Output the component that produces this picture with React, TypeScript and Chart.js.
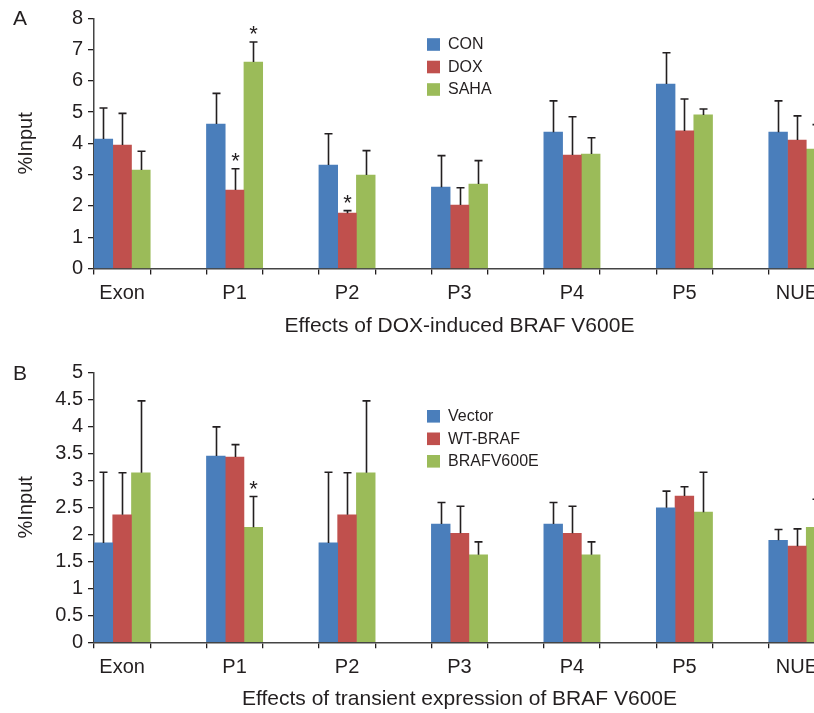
import React, { useEffect, useRef } from "react";
import { Chart, registerables } from "chart.js";

Chart.register(...registerables);

// ---------- DATA ----------
const groups = ["Exon", "P1", "P2", "P3", "P4", "P5", "NUE"];

// Panel A: Effects of DOX-induced BRAF V600E
const aSeries = ["CON", "DOX", "SAHA"];
const aCon = [4.14, 4.62, 3.31, 2.6, 4.36, 5.9, 4.36];
const aConErr = [0.99, 0.98, 1.0, 1.01, 1.0, 1.0, 1.0];
const aDox = [3.95, 2.51, 1.77, 2.03, 3.63, 4.4, 4.11];
const aDoxErr = [1.01, 0.68, 0.08, 0.55, 1.22, 1.02, 0.77];
const aSaha = [3.15, 6.6, 2.99, 2.7, 3.66, 4.91, 3.82];
const aSahaErr = [0.6, 0.64, 0.78, 0.75, 0.52, 0.19, 0.78];
const aConSig = [false, false, false, false, false, false, false];
const aDoxSig = [false, true, true, false, false, false, false];
const aSahaSig = [false, true, false, false, false, false, false];
const aTicks = [0, 1, 2, 3, 4, 5, 6, 7, 8];

// Panel B: Effects of transient expression of BRAF V600E
const bSeries = ["Vector", "WT-BRAF", "BRAFV600E"];
const bVector = [1.84, 3.45, 1.84, 2.19, 2.19, 2.49, 1.89];
const bVectorErr = [1.31, 0.54, 1.31, 0.4, 0.4, 0.31, 0.2];
const bWt = [2.36, 3.43, 2.36, 2.02, 2.02, 2.71, 1.78];
const bWtErr = [0.78, 0.23, 0.78, 0.5, 0.5, 0.17, 0.32];
const bV600e = [3.14, 2.13, 3.14, 1.62, 1.62, 2.41, 2.13];
const bV600eErr = [1.33, 0.57, 1.33, 0.24, 0.24, 0.74, 0.52];
const bVectorSig = [false, false, false, false, false, false, false];
const bWtSig = [false, false, false, false, false, false, false];
const bV600eSig = [false, true, false, false, false, false, false];
const bTicks = [0, 0.5, 1, 1.5, 2, 2.5, 3, 3.5, 4, 4.5, 5];

// ---------- STYLE ----------
const COLORS = ["#4a7ebb", "#c0504d", "#9bbb59"];
const INK = "#231f20";
const FONT = "'Liberation Sans', Arial, Helvetica, sans-serif";

// groups separated by an empty slot (the original has ticks at every slot boundary)
function slots<T>(arr: T[], blank: T): T[] {
  const out: T[] = [];
  arr.forEach((v, i) => {
    out.push(v);
    if (i < arr.length - 1) out.push(blank);
  });
  return out;
}

const annotatePlugin = {
  id: "annotate",
  afterDatasetsDraw(chart: any, _args: any, opts: any) {
    const ctx: CanvasRenderingContext2D = chart.ctx;
    const yScale = chart.scales.y;
    ctx.save();
    // error bars + significance stars
    chart.data.datasets.forEach((ds: any, di: number) => {
      const meta = chart.getDatasetMeta(di);
      meta.data.forEach((bar: any, i: number) => {
        const v = ds.data[i];
        if (v == null) return;
        const e = ds.errors[i] || 0;
        const x = Math.round(bar.x) + 0.5;
        const yBar = bar.y;
        const yTop = yScale.getPixelForValue(v + e);
        ctx.strokeStyle = INK;
        ctx.lineWidth = 1.6;
        ctx.beginPath();
        ctx.moveTo(x, yBar);
        ctx.lineTo(x, yTop);
        ctx.moveTo(x - 4, yTop);
        ctx.lineTo(x + 4, yTop);
        ctx.stroke();
        if (ds.sig[i]) {
          ctx.fillStyle = INK;
          ctx.font = `22px ${FONT}`;
          ctx.textAlign = "center";
          ctx.textBaseline = "alphabetic";
          ctx.fillText("*", x, yTop - 1);
        }
      });
    });
    // legend
    ctx.font = `16px ${FONT}`;
    ctx.textAlign = "left";
    ctx.textBaseline = "middle";
    chart.data.datasets.forEach((ds: any, di: number) => {
      const cy = opts.legendY + di * opts.legendGap;
      ctx.fillStyle = ds.backgroundColor;
      ctx.fillRect(opts.legendX, cy - 6.3, 13, 12.6);
      ctx.fillStyle = INK;
      ctx.fillText(ds.label, opts.legendX + 21, cy + 0.5);
    });
    // panel letter
    ctx.font = `21px ${FONT}`;
    ctx.textBaseline = "middle";
    ctx.fillText(opts.letter, 13, opts.letterY);
    ctx.restore();
  },
};

type PanelProps = {
  top: number;
  height: number;
  chartTop: number;
  titleBottomPad: number;
  xAxisHeight: number;
  letter: string;
  letterY: number;
  legendY: number;
  names: string[];
  values: number[][];
  errors: number[][];
  sig: boolean[][];
  ticks: number[];
  xTitle: string;
};

function Panel(p: PanelProps) {
  const ref = useRef<HTMLCanvasElement | null>(null);
  useEffect(() => {
    if (!ref.current) return;
    const chart = new Chart(ref.current, {
      type: "bar",
      data: {
        labels: slots(groups, ""),
        datasets: p.names.map((name, k) => ({
          label: name,
          data: slots<number | null>(p.values[k], null),
          errors: slots<number | null>(p.errors[k], null),
          sig: slots<boolean>(p.sig[k], false),
          backgroundColor: COLORS[k],
          borderWidth: 0,
          barPercentage: 1,
          categoryPercentage: 1,
        })) as any,
      },
      options: {
        responsive: false,
        animation: false,
        devicePixelRatio: 1,
        layout: { padding: { left: 0, right: 5, top: p.chartTop, bottom: 0 } },
        plugins: {
          legend: { display: false },
          tooltip: { enabled: false },
          annotate: {
            letter: p.letter,
            letterY: p.letterY,
            legendX: 427,
            legendY: p.legendY,
            legendGap: 22.5,
          },
        } as any,
        scales: {
          x: {
            type: "category",
            offset: true,
            grid: {
              offset: true,
              drawOnChartArea: false,
              drawTicks: true,
              tickLength: 6,
              color: INK,
              lineWidth: 1.3,
            },
            border: { display: true, color: "#444", width: 1.5 },
            ticks: {
              autoSkip: false,
              maxRotation: 0,
              color: INK,
              padding: 7,
              font: { family: FONT, size: 20 },
            },
            title: {
              display: true,
              text: p.xTitle,
              color: INK,
              font: { family: FONT, size: 21 },
              padding: { top: 0, bottom: p.titleBottomPad },
            },
            afterFit: (s: any) => {
              s.height = p.xAxisHeight;
            },
          },
          y: {
            min: p.ticks[0],
            max: p.ticks[p.ticks.length - 1],
            afterBuildTicks: (s: any) => {
              s.ticks = p.ticks.map((v) => ({ value: v }));
            },
            grid: {
              drawOnChartArea: false,
              drawTicks: true,
              tickLength: 6,
              color: INK,
              lineWidth: 1.3,
            },
            border: { display: true, color: "#444", width: 1.5 },
            ticks: {
              color: INK,
              padding: 5,
              font: { family: FONT, size: 20 },
              callback: (v: any) => String(Number(v)),
            },
            title: {
              display: true,
              text: "%Input",
              color: INK,
              font: { family: FONT, size: 20 },
              padding: { top: 14, bottom: 0 },
            },
            afterFit: (s: any) => {
              s.width = 94;
            },
          },
        },
      } as any,
      plugins: [annotatePlugin],
    });
    return () => chart.destroy();
  }, []);
  return (
    <canvas
      ref={ref}
      width={830}
      height={p.height}
      style={{ position: "absolute", left: 0, top: p.top, width: 830, height: p.height }}
    />
  );
}

export default function App() {
  return (
    <div
      style={{
        position: "fixed",
        left: 0,
        top: 0,
        width: 814,
        height: 713,
        overflow: "hidden",
        background: "#fff",
      }}
    >
      <Panel
        top={0}
        height={350}
        chartTop={18.3}
        xAxisHeight={81.5}
        titleBottomPad={11}
        letter="A"
        letterY={19}
        legendY={44.5}
        names={aSeries}
        values={[aCon, aDox, aSaha]}
        errors={[aConErr, aDoxErr, aSahaErr]}
        sig={[aConSig, aDoxSig, aSahaSig]}
        ticks={aTicks}
        xTitle="Effects of DOX-induced BRAF V600E"
      />
      <Panel
        top={355}
        height={358}
        chartTop={17.3}
        xAxisHeight={70.7}
        titleBottomPad={1.4}
        letter="B"
        letterY={19}
        legendY={61.3}
        names={bSeries}
        values={[bVector, bWt, bV600e]}
        errors={[bVectorErr, bWtErr, bV600eErr]}
        sig={[bVectorSig, bWtSig, bV600eSig]}
        ticks={bTicks}
        xTitle="Effects of transient expression of BRAF V600E"
      />
    </div>
  );
}
